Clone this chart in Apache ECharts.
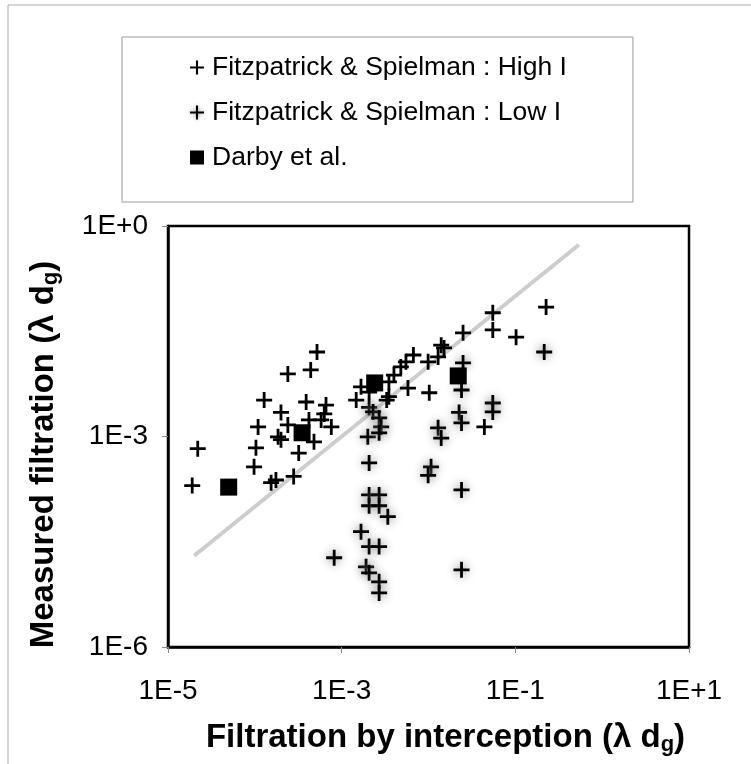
<!DOCTYPE html>
<html>
<head>
<meta charset="utf-8">
<script src="https://cdn.jsdelivr.net/npm/echarts@6/dist/echarts.min.js"></script>
<style>
  html, body { margin: 0; padding: 0; background: #fff; }
  #chart { width: 751px; height: 764px; }
</style>
</head>
<body>
<div id="chart"></div>
<script>
// Fitzpatrick & Spielman, high ionic strength
const highX = [1.9e-5, 2.2e-5, 9.8e-5, 1.03e-4, 1.09e-4, 1.28e-4, 1.54e-4, 1.75e-4, 1.85e-4, 2.0e-4,
               2.0e-4, 2.4e-4, 2.4e-4, 2.8e-4, 3.2e-4, 3.9e-4, 4.2e-4, 4.4e-4, 5.2e-4, 4.8e-4,
               5.8e-4, 6.6e-4, 7.6e-4, 6.3e-4, 1.47e-3, 1.67e-3, 2.07e-3, 3.3e-3, 3.5e-3, 3.5e-3,
               4.0e-3, 4.8e-3, 5.5e-3, 6.7e-3, 5.8e-3, 9.9e-3, 1.02e-2, 1.29e-2, 1.40e-2, 1.51e-2,
               2.5e-2, 4.4e-2, 5.5e-2, 5.5e-2, 0.102, 0.226];
const highY = [2.0e-4, 6.7e-4, 3.7e-4, 6.9e-4, 1.37e-3, 3.3e-3, 2.2e-4, 2.4e-4, 9.9e-4, 9.0e-4,
               2.2e-3, 7.8e-3, 1.46e-3, 2.7e-4, 5.8e-4, 3.1e-3, 1.72e-3, 8.9e-3, 1.6e-2, 8.4e-4,
               1.72e-3, 2.8e-3, 1.37e-3, 2.1e-3, 3.3e-3, 5.1e-3, 4.3e-3, 3.3e-3, 3.7e-3, 6.0e-3,
               7.5e-3, 9.8e-3, 1.16e-2, 1.45e-2, 4.9e-3, 1.16e-2, 4.2e-3, 1.36e-2, 2.0e-2, 1.83e-2,
               3.0e-2, 1.37e-3, 5.8e-2, 3.3e-2, 2.6e-2, 7.0e-2];

// Fitzpatrick & Spielman, low ionic strength
const lowX = [8.2e-4, 2.07e-3, 2.3e-3, 2.7e-3, 2.85e-3, 2.0e-3, 2.7e-3, 2.07e-3, 2.07e-3, 2.7e-3,
              2.07e-3, 2.7e-3, 3.4e-3, 1.67e-3, 2.07e-3, 2.7e-3, 1.91e-3, 2.07e-3, 2.7e-3, 2.7e-3,
              1.07e-2, 9.9e-3, 1.29e-2, 1.40e-2, 2.25e-2, 2.4e-2, 2.5e-2, 2.4e-2, 2.4e-2, 2.4e-2,
              5.5e-2, 5.5e-2, 0.215];
const lowY = [1.87e-5, 2.6e-3, 2.24e-3, 1.84e-3, 1.37e-3, 9.9e-4, 1.13e-3, 4.2e-4, 1.47e-4, 1.47e-4,
              1.03e-4, 1.03e-4, 7.2e-5, 4.4e-5, 2.7e-5, 2.7e-5, 1.39e-5, 1.14e-5, 8.5e-6, 5.9e-6,
              3.7e-4, 2.8e-4, 1.33e-3, 9.5e-4, 2.2e-3, 1.56e-3, 1.12e-2, 4.6e-3, 1.73e-4, 1.26e-5,
              3.0e-3, 2.24e-3, 1.6e-2];

// Darby et al.
const darbyX = [5.0e-5, 3.5e-4, 2.4e-3, 2.2e-2];
const darbyY = [1.9e-4, 1.13e-3, 5.8e-3, 7.3e-3];

// 1:1 line
const lineX = [2e-5, 0.54];

const xTicks = [1e-5, 1e-3, 1e-1, 10];
const yTicks = [1e-6, 1e-3, 1];

const names = ['Fitzpatrick & Spielman : High I', 'Fitzpatrick & Spielman : Low I', 'Darby et al.'];

const plus = 'path://M0,6.6H16V9.4H0Z M6.6,0H9.4V16H6.6Z';
const thinPlus = 'path://M0,6.8H16V9.2H0Z M6.8,0H9.2V16H6.8Z';

function pairs(xs, ys) {
    return xs.map(function (x, i) { return [x, ys[i]]; });
}

function expLabel(v) {
    const e = Math.round(Math.log10(v));
    return '1E' + (e < 0 ? '-' : '+') + Math.abs(e);
}

const chart = echarts.init(document.getElementById('chart'), null, { renderer: 'canvas' });

const option = {
    backgroundColor: '#fff',
    animation: false,
    textStyle: { fontFamily: 'Liberation Sans, Arial, sans-serif', color: '#000' },
    graphic: [{
        type: 'rect',
        shape: { x: 8, y: 5, width: 800, height: 800 },
        style: { fill: 'none', stroke: '#aaa', lineWidth: 1 },
        silent: true
    }],
    legend: {
        left: 122,
        top: 37,
        orient: 'vertical',
        padding: [17, 66, 31, 68],
        itemGap: 18,
        itemWidth: 14,
        itemHeight: 14,
        borderColor: '#999',
        borderWidth: 1,
        textStyle: { fontSize: 26.5, color: '#000', fontFamily: 'Liberation Sans, Arial, sans-serif', padding: [0, 0, 0, 3] },
        data: [
            { name: names[0], icon: thinPlus, itemStyle: { color: '#000', shadowBlur: 0 } },
            { name: names[1], icon: thinPlus, itemStyle: { color: '#000', shadowColor: 'rgba(150,150,150,0.9)', shadowBlur: 4 } },
            { name: names[2], icon: 'rect', itemWidth: 12, itemHeight: 12, itemStyle: { color: '#000' } }
        ]
    },
    grid: {
        left: 168,
        right: 62,
        top: 226,
        bottom: 117,
        show: true,
        borderColor: '#000',
        borderWidth: 2.5,
        backgroundColor: '#fff'
    },
    xAxis: {
        type: 'log',
        logBase: 10,
        min: 1e-5,
        max: 10,
        name: '{a|Filtration by interception (λ d}{s|g}{a|)}',
        nameLocation: 'middle',
        nameGap: 72,
        nameTextStyle: {
            padding: [0, 0, 0, 34],
            rich: {
                a: { fontSize: 33, fontWeight: 'bold', color: '#000' },
                s: { fontSize: 22, fontWeight: 'bold', color: '#000', padding: [15, 0, 0, 0] }
            }
        },
        axisLine: { lineStyle: { color: '#000', width: 2.5 } },
        axisTick: { customValues: xTicks, length: 6, lineStyle: { color: '#888' } },
        axisLabel: { customValues: xTicks, fontSize: 28, color: '#000', margin: 30, formatter: expLabel },
        splitLine: { show: false },
        minorTick: { show: false }
    },
    yAxis: {
        type: 'log',
        logBase: 10,
        min: 1e-6,
        max: 1,
        name: '{a|Measured filtration (λ d}{s|g}{a|)}',
        nameLocation: 'middle',
        nameGap: 106,
        nameTextStyle: {
            padding: [0, 36, 0, 0],
            rich: {
                a: { fontSize: 33, fontWeight: 'bold', color: '#000' },
                s: { fontSize: 22, fontWeight: 'bold', color: '#000', padding: [15, 0, 0, 0] }
            }
        },
        axisLine: { lineStyle: { color: '#000', width: 2.5 } },
        axisTick: { customValues: yTicks, length: 6, lineStyle: { color: '#888' } },
        axisLabel: { customValues: yTicks, fontSize: 28, color: '#000', margin: 20, formatter: expLabel },
        splitLine: { show: false },
        minorTick: { show: false }
    },
    series: [
        {
            name: '1:1',
            type: 'line',
            data: pairs(lineX, lineX),
            symbol: 'none',
            z: 1,
            lineStyle: { color: '#cdcdcd', width: 4 },
            silent: true
        },
        {
            name: names[1],
            type: 'scatter',
            data: pairs(lowX, lowY),
            symbol: plus,
            symbolSize: 16,
            z: 3,
            itemStyle: { color: '#000', opacity: 1, shadowColor: 'rgba(140,140,140,1)', shadowBlur: 10 }
        },
        {
            name: names[0],
            type: 'scatter',
            data: pairs(highX, highY),
            symbol: plus,
            symbolSize: 16,
            z: 4,
            itemStyle: { color: '#000', opacity: 1 }
        },
        {
            name: names[2],
            type: 'scatter',
            data: pairs(darbyX, darbyY),
            symbol: 'rect',
            symbolSize: 17,
            z: 5,
            itemStyle: { color: '#000', opacity: 1 }
        }
    ]
};

chart.setOption(option);
</script>
</body>
</html>
